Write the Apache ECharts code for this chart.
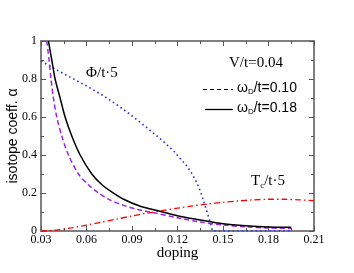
<!DOCTYPE html>
<html><head><meta charset="utf-8">
<script src="https://cdn.jsdelivr.net/npm/echarts@6/dist/echarts.min.js"></script>
<style>html,body{margin:0;padding:0;background:#fff}#c{width:354px;height:273px}</style>
</head><body><div id="c"></div>
<script>
// ---- data ----
const xTicks = [0.03, 0.06, 0.09, 0.12, 0.15, 0.18, 0.21];
const yTicks = [0, 0.2, 0.4, 0.6, 0.8, 1];

const dopingW018 = [0.0349, 0.0371, 0.0393, 0.0426, 0.0459, 0.0503, 0.0558, 0.0635, 0.070, 0.0768, 0.0845, 0.0955, 0.109, 0.120, 0.135, 0.150, 0.165, 0.180, 0.195];
const alphaW018  = [1.0, 0.90, 0.80, 0.70, 0.60, 0.50, 0.40, 0.30, 0.245, 0.205, 0.167, 0.13, 0.103, 0.08, 0.058, 0.038, 0.027, 0.021, 0.02];

const dopingW010 = [0.0338, 0.0353, 0.0366, 0.0382, 0.0404, 0.0437, 0.0481, 0.0547, 0.061, 0.068, 0.075, 0.0845, 0.094, 0.1043, 0.120, 0.135, 0.150, 0.165, 0.180, 0.195];
const alphaW010  = [1.0, 0.90, 0.80, 0.70, 0.60, 0.50, 0.40, 0.30, 0.245, 0.20, 0.165, 0.135, 0.113, 0.096, 0.07, 0.047, 0.032, 0.022, 0.016, 0.014];

const dopingPhi = [0.030, 0.040, 0.050, 0.060, 0.070, 0.080, 0.090, 0.100, 0.110, 0.1176, 0.1225, 0.1264, 0.130, 0.133, 0.1355, 0.1375, 0.1395, 0.141, 0.1425, 0.143, 0.160, 0.180, 0.195];
const phiScaled = [0.895, 0.849, 0.806, 0.764, 0.717, 0.665, 0.606, 0.543, 0.476, 0.42, 0.375, 0.34, 0.295, 0.25, 0.20, 0.15, 0.10, 0.06, 0.02, 0, 0, 0, 0];

const dopingTc = [0.030, 0.035, 0.040, 0.050, 0.060, 0.070, 0.080, 0.090, 0.100, 0.110, 0.120, 0.130, 0.140, 0.150, 0.160, 0.170, 0.180, 0.190, 0.200, 0.210];
const tcScaled = [0, 0.001, 0.005, 0.016, 0.031, 0.047, 0.063, 0.079, 0.094, 0.107, 0.12, 0.132, 0.142, 0.151, 0.158, 0.164, 0.167, 0.167, 0.164, 0.16];

const legendLabels = ['/t=0.10', '/t=0.18'];

const zip = (xs, ys) => xs.map((x, i) => [x, ys[i]]);

const serif = '"Liberation Serif","Times New Roman",serif';
const sans = '"Liberation Sans",Arial,sans-serif';
const axisGray = '#555';

function xAxisCfg(pos, showLabels) {
  return {
    type: 'value', position: pos, min: 0.03, max: 0.21, interval: 0.03,
    splitLine: {show: false},
    axisLine: {show: true, onZero: false, lineStyle: {color: axisGray, width: 1.5}},
    axisTick: {show: true, inside: true, length: 5, lineStyle: {color: axisGray}},
    minorTick: {show: true, splitNumber: 2, length: 3, lineStyle: {color: axisGray}},
    axisLabel: {show: showLabels, margin: 3, fontFamily: serif, fontSize: 12, color: '#000',
      formatter: v => { const t = xTicks.find(k => Math.abs(k - v) < 1e-6); return t !== undefined ? t.toFixed(2) : ''; }},
    name: showLabels ? 'doping' : '', nameLocation: 'middle', nameGap: 15, nameMoveOverlap: false,
    nameTextStyle: {fontFamily: serif, fontSize: 15, color: '#000'}
  };
}
function yAxisCfg(pos, showLabels) {
  return {
    type: 'value', position: pos, min: 0, max: 1, interval: 0.2,
    splitLine: {show: false},
    axisLine: {show: true, onZero: false, lineStyle: {color: axisGray, width: 1.5}},
    axisTick: {show: true, inside: true, length: 5, lineStyle: {color: axisGray}},
    minorTick: {show: true, splitNumber: 2, length: 3, lineStyle: {color: axisGray}},
    axisLabel: {show: showLabels, margin: 4, fontFamily: serif, fontSize: 12, color: '#000',
      formatter: v => { const t = yTicks.find(k => Math.abs(k - v) < 1e-6); return t !== undefined ? String(t) : ''; }},
    name: showLabels ? 'isotope coeff. α' : '', nameLocation: 'middle', nameGap: 21, nameRotate: 90, nameMoveOverlap: false,
    nameTextStyle: {fontFamily: sans, fontSize: 14, color: '#000'}
  };
}

const chart = echarts.init(document.getElementById('c'), null, {renderer: 'canvas'});
chart.setOption({
  animation: false,
  backgroundColor: '#fff',
  grid: {left: 41, right: 40, top: 41, bottom: 42, containLabel: false, outerBoundsMode: 'none'},
  xAxis: [xAxisCfg('bottom', true), xAxisCfg('top', false)],
  yAxis: [yAxisCfg('left', true), yAxisCfg('right', false)],
  graphic: [
    {type: 'text', left: 86, top: 66, style: {text: 'Φ/t·5', font: '15px ' + serif, fill: '#000'}},
    {type: 'text', left: 229, top: 56, style: {text: 'V/t=0.04', font: '15px ' + serif, fill: '#000'}},
    {type: 'text', left: 251, top: 174, style: {
      text: 'T{s|c}/t·5', font: '15px ' + serif, fill: '#000',
      rich: {s: {fontFamily: serif, fontSize: 9, padding: [9, 0, 0, 0]}}}},
    // legend keys
    {type: 'line', shape: {x1: 203, y1: 89.5, x2: 233, y2: 89.5}, style: {stroke: '#000', lineWidth: 1.2, lineDash: [4, 3]}},
    {type: 'line', shape: {x1: 205, y1: 109.5, x2: 233, y2: 109.5}, style: {stroke: '#000', lineWidth: 1.3}},
    {type: 'text', left: 237, top: 81, style: {
      text: 'ω{s|D}' + legendLabels[0], font: '14px ' + sans, fill: '#000',
      rich: {s: {fontFamily: sans, fontSize: 8, padding: [8, 0, 0, 0]}}}},
    {type: 'text', left: 237, top: 101, style: {
      text: 'ω{s|D}' + legendLabels[1], font: '14px ' + sans, fill: '#000',
      rich: {s: {fontFamily: sans, fontSize: 8, padding: [8, 0, 0, 0]}}}}
  ],
  series: [
    {name: 'phi', type: 'line', data: zip(dopingPhi, phiScaled), showSymbol: false, symbol: 'none',
      lineStyle: {color: '#2a2aff', width: 1.6, type: [1.6, 3]}, z: 2},
    {name: 'tc', type: 'line', data: zip(dopingTc, tcScaled), showSymbol: false, symbol: 'none', smooth: 0.3,
      lineStyle: {color: '#ff0000', width: 1.3, type: [6, 3, 1.5, 3]}, z: 2},
    {name: 'w010', type: 'line', data: zip(dopingW010, alphaW010), showSymbol: false, symbol: 'none', smooth: 0.3,
      lineStyle: {color: '#a020f0', width: 1.5, type: [5, 3]}, z: 3},
    {name: 'w018', type: 'line', data: zip(dopingW018, alphaW018), showSymbol: false, symbol: 'none', smooth: 0.3,
      lineStyle: {color: '#000', width: 1.5}, z: 4}
  ]
});
</script></body></html>
